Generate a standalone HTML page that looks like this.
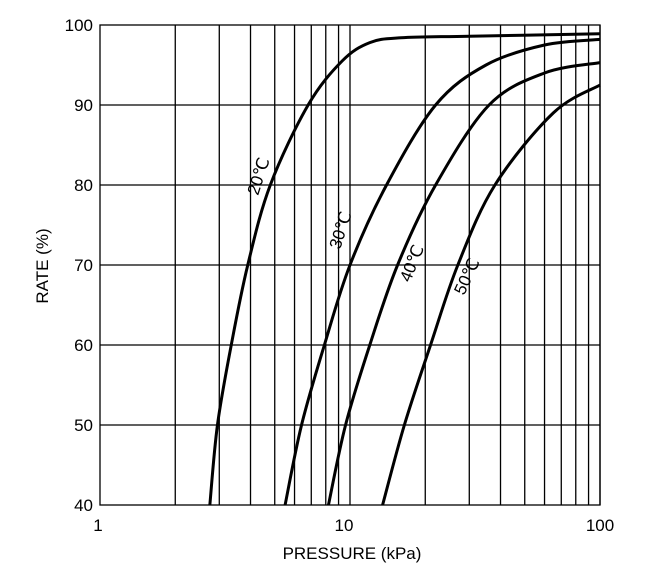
<!DOCTYPE html>
<html><head><meta charset="utf-8"><style>
html,body{margin:0;padding:0;background:#fff;}
svg{display:block;font-family:"Liberation Sans",sans-serif;}
</style></head><body>
<svg id="s" width="669" height="581" viewBox="0 0 669 581" xmlns="http://www.w3.org/2000/svg">
<g id="grid" stroke="#000" stroke-width="1.3" fill="none"></g>
<g id="curves" stroke="#000" stroke-width="3" fill="none"></g>
<g font-size="17" fill="#000">
<text x="93" y="31" text-anchor="end">100</text>
<text x="93" y="111" text-anchor="end">90</text>
<text x="93" y="191" text-anchor="end">80</text>
<text x="93" y="271" text-anchor="end">70</text>
<text x="93" y="351" text-anchor="end">60</text>
<text x="93" y="431" text-anchor="end">50</text>
<text x="93" y="511" text-anchor="end">40</text>
<text x="98" y="531" text-anchor="middle">1</text>
<text x="344" y="531" text-anchor="middle">10</text>
<text x="600" y="531" text-anchor="middle">100</text>
<text x="352" y="559" text-anchor="middle">PRESSURE  (kPa)</text>
<text transform="translate(48,266) rotate(-90)" text-anchor="middle">RATE  (%)</text>
<text transform="translate(258,196) rotate(-72)" font-size="17">20℃</text>
<text transform="translate(340,250) rotate(-72)" font-size="17">30℃</text>
<text transform="translate(410,283) rotate(-68)" font-size="17">40℃</text>
<text transform="translate(464,296) rotate(-65)" font-size="17">50℃</text>
</g>
</svg>
<script>
var L=100,D=250,T=25,B=505;
function X(p){return L+D*Math.log10(p);}
function Y(r){return B-(r-40)*8;}
var g=document.getElementById('grid'),h='';
h+='<rect x="'+L+'" y="'+T+'" width="'+(2*D)+'" height="'+(B-T)+'"/>';
for(var d=1;d<=10;d*=10)for(var k=2;k<=10;k++){var x=X(d*k);h+='<line x1="'+x+'" y1="'+T+'" x2="'+x+'" y2="'+B+'"/>';}
for(var r=50;r<100;r+=10){h+='<line x1="'+L+'" y1="'+Y(r)+'" x2="'+(L+2*D)+'" y2="'+Y(r)+'"/>';}
g.innerHTML=h;
var data=[
[[2.75,40],[2.95,50],[3.35,60],[3.9,70],[4.8,80],[6.8,90],[9.3,95.5],[12,97.8],[16,98.4],[30,98.6],[100,98.9]],
[[5.5,40],[6.4,50],[7.9,60],[10,70],[14,80],[22,90],[35,95],[60,97.5],[100,98.2]],
[[8.2,40],[9.6,50],[12,60],[15.5,70],[22,80],[36,90],[60,94],[100,95.3]],
[[13.5,40],[16.5,50],[21,60],[27,70],[38,80],[65,89],[100,92.5]]];
var c='';
data.forEach(function(s){
 var p=s.map(function(q){return [X(q[0]),Y(q[1])];});
 var d='M'+p[0][0]+' '+p[0][1];
 for(var i=0;i<p.length-1;i++){
  var p0=p[i-1]||p[i],p1=p[i],p2=p[i+1],p3=p[i+2]||p2;
  d+=' C'+(p1[0]+(p2[0]-p0[0])/6)+' '+(p1[1]+(p2[1]-p0[1])/6)+' '+(p2[0]-(p3[0]-p1[0])/6)+' '+(p2[1]-(p3[1]-p1[1])/6)+' '+p2[0]+' '+p2[1];
 }
 c+='<path d="'+d+'"/>';
});
document.getElementById('curves').innerHTML=c;
</script>
</body></html>
